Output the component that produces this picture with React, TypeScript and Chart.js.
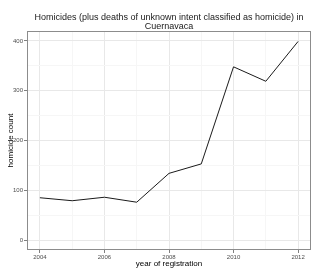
import React, { useEffect, useRef } from "react";
import { Chart, registerables } from "chart.js";

Chart.register(...registerables);

const years = [2004, 2005, 2006, 2007, 2008, 2009, 2010, 2011, 2012];
const homicides = [85, 79, 86, 76, 134, 153, 348, 319, 399];
const xTicks = [2004, 2005, 2006, 2007, 2008, 2009, 2010, 2011, 2012];
const yTicks = [0, 50, 100, 150, 200, 250, 300, 350, 400];
const titleLines = [
  "Homicides (plus deaths of unknown intent classified as homicide) in",
  "Cuernavaca",
];
const xTitle = "year of registration";
const yTitle = "homicide count";

const FONT = '"Liberation Sans", Arial, Helvetica, sans-serif';

const textPlugin = {
  id: "ggText",
  afterDraw(chart: any) {
    const { ctx, chartArea } = chart;
    const cx = (chartArea.left + chartArea.right) / 2;
    const cy = (chartArea.top + chartArea.bottom) / 2;
    ctx.save();
    // panel border
    ctx.strokeStyle = "#8c8c8c";
    ctx.lineWidth = 1;
    ctx.strokeRect(
      Math.round(chartArea.left) + 0.5,
      Math.round(chartArea.top) + 0.5,
      Math.round(chartArea.right - chartArea.left) - 1,
      Math.round(chartArea.bottom - chartArea.top) - 1
    );
    ctx.fillStyle = "#1a1a1a";
    ctx.textAlign = "center";
    ctx.textBaseline = "alphabetic";
    ctx.font = `9px ${FONT}`;
    ctx.fillText(titleLines[0], cx, 19.5);
    ctx.fillText(titleLines[1], cx, 29.3);
    ctx.font = `8px ${FONT}`;
    ctx.fillStyle = "#000";
    ctx.fillText(xTitle, cx, 265.5);
    ctx.translate(13.3, cy);
    ctx.rotate(-Math.PI / 2);
    ctx.fillText(yTitle, 0, 0);
    ctx.restore();
  },
};

export default function App() {
  const ref = useRef<HTMLCanvasElement>(null);
  useEffect(() => {
    document.body.style.margin = "0";
    const chart = new Chart(ref.current!, {
      type: "line",
      data: {
        datasets: [
          {
            data: years.map((y, i) => ({ x: y, y: homicides[i] })),
            borderColor: "#1a1a1a",
            borderWidth: 1,
            pointRadius: 0,
            tension: 0,
            fill: false,
          },
        ],
      },
      options: {
        responsive: false,
        animation: false,
        layout: { padding: { top: 31, right: 9, left: 0, bottom: 0 } },
        plugins: {
          legend: { display: false },
          title: { display: false },
          tooltip: { enabled: false },
        },
        scales: {
          x: {
            type: "linear",
            min: 2003.6,
            max: 2012.4,
            afterBuildTicks: (s: any) => {
              s.ticks = xTicks.map((v) => ({ value: v }));
            },
            afterFit: (s: any) => {
              s.height = 24;
            },
            border: { display: false },
            grid: {
              color: (c: any) => (c.tick && c.tick.value % 2 === 0 ? "#e8e8e8" : "#f6f6f6"),
              tickColor: (c: any) => (c.tick && c.tick.value % 2 === 0 ? "#7f7f7f" : "rgba(0,0,0,0)"),
              tickLength: 3,
              lineWidth: 1,
            },
            ticks: {
              autoSkip: false,
              maxRotation: 0,
              padding: 1,
              color: "#4d4d4d",
              font: { size: 6, family: FONT },
              callback: (v: any) => (Number(v) % 2 === 0 ? String(v) : ""),
            },
          },
          y: {
            type: "linear",
            min: -20,
            max: 420,
            afterBuildTicks: (s: any) => {
              s.ticks = yTicks.map((v) => ({ value: v }));
            },
            afterFit: (s: any) => {
              s.width = 27;
            },
            border: { display: false },
            grid: {
              color: (c: any) => (c.tick && c.tick.value % 100 === 0 ? "#e8e8e8" : "#f6f6f6"),
              tickColor: (c: any) => (c.tick && c.tick.value % 100 === 0 ? "#7f7f7f" : "rgba(0,0,0,0)"),
              tickLength: 3,
              lineWidth: 1,
            },
            ticks: {
              autoSkip: false,
              padding: 1,
              color: "#4d4d4d",
              font: { size: 6, family: FONT },
              callback: (v: any) => (Number(v) % 100 === 0 ? String(v) : ""),
            },
          },
        },
      },
      plugins: [textPlugin],
    });
    return () => chart.destroy();
  }, []);
  return (
    <div style={{ width: 320, height: 274, background: "#fff" }}>
      <canvas ref={ref} width={320} height={274} />
    </div>
  );
}
